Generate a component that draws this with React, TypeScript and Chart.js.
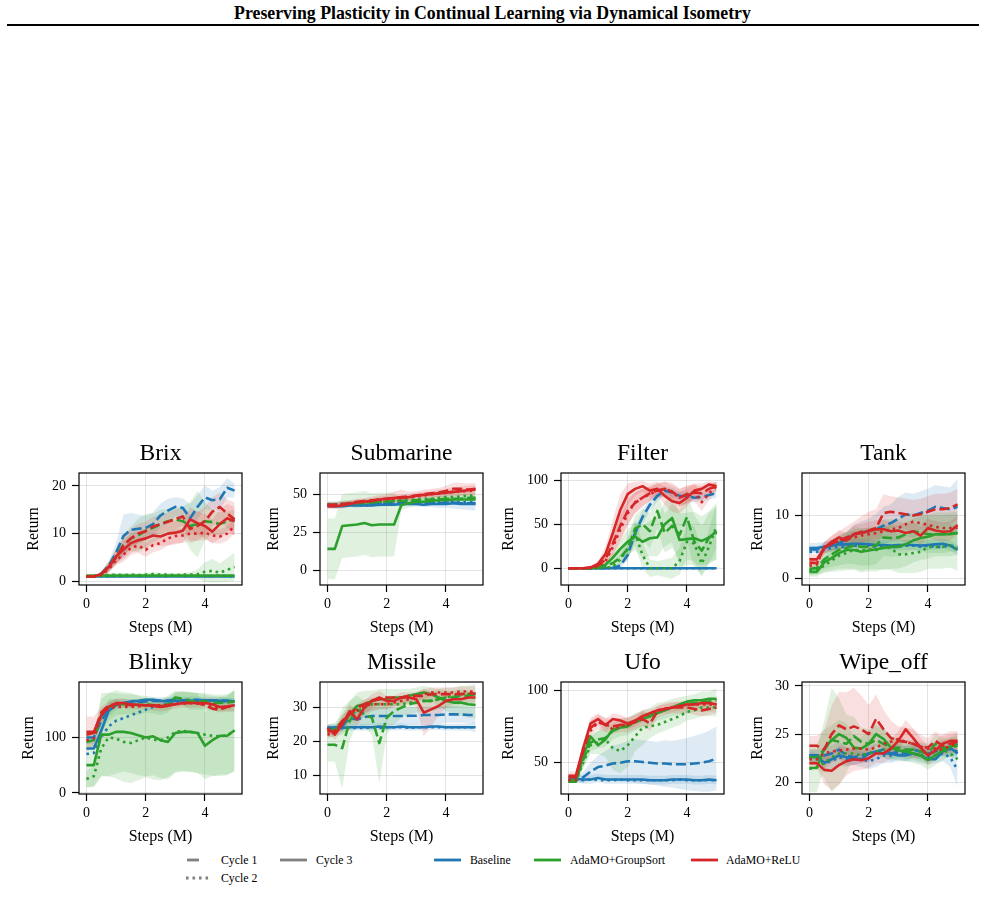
import React, { useEffect, useRef } from "react";
import { Chart, registerables } from "chart.js";
Chart.register(...registerables);

// ---------- shared ----------
const STEPS = [0, 0.25, 0.5, 0.75, 1, 1.25, 1.5, 1.75, 2, 2.25, 2.5, 2.75, 3, 3.25, 3.5, 3.75, 4, 4.25, 4.5, 4.75, 5];
const X_TICKS = [0, 2, 4];
const METHODS = ["Baseline", "AdaMO+GroupSort", "AdaMO+ReLU"];
const CYCLES = ["Cycle 1", "Cycle 2", "Cycle 3"];

// ---------- Brix ----------
const BRIX_YTICKS = [0, 10, 20];
const BRIX_B1 = [1.0, 1.0, 1.6, 3.2, 6.0, 9.5, 10.8, 11.0, 11.2, 12.0, 13.8, 14.8, 15.6, 15.4, 13.2, 15.6, 17.6, 17.0, 17.2, 19.6, 19.0];
const BRIX_B1_SD = [0.1, 0.1, 0.5, 1.0, 2.0, 4.5, 3.5, 3.0, 2.5, 2.5, 2.5, 2.5, 2.0, 2.0, 3.0, 2.5, 2.5, 2.0, 2.5, 2.0, 1.5];
const BRIX_B2 = [1.0, 1.0, 1.1, 1.1, 1.1, 1.1, 1.2, 1.1, 1.1, 1.2, 1.1, 1.1, 1.2, 1.1, 1.1, 1.2, 1.1, 1.1, 1.2, 1.1, 1.1];
const BRIX_B3 = [1.0, 1.0, 1.0, 1.0, 1.0, 1.0, 1.0, 1.0, 1.0, 1.0, 1.0, 1.0, 1.0, 1.0, 1.0, 1.0, 1.0, 1.0, 1.0, 1.0, 1.0];
const BRIX_G1 = [1.0, 1.0, 1.5, 3.0, 5.2, 7.6, 9.0, 9.6, 10.6, 11.2, 12.0, 12.6, 13.0, 12.6, 11.6, 12.0, 12.6, 12.4, 12.0, 12.6, 13.0];
const BRIX_G1_SD = [0.1, 0.1, 0.5, 1.0, 1.5, 2.0, 2.5, 3.5, 3.5, 3.0, 3.0, 2.5, 2.5, 3.0, 5.0, 7.0, 4.0, 2.5, 2.5, 2.0, 2.0];
const BRIX_G2 = [1.0, 1.0, 1.3, 1.3, 1.4, 1.3, 1.4, 1.3, 1.4, 1.5, 1.4, 1.4, 1.3, 1.4, 1.4, 1.5, 2.0, 2.2, 1.8, 2.4, 3.0];
const BRIX_G2_SD = [0.1, 0.1, 0.3, 0.4, 0.4, 0.4, 0.4, 0.4, 0.4, 0.4, 0.4, 0.4, 0.4, 0.4, 0.5, 1.0, 2.0, 2.5, 2.0, 2.5, 3.0];
const BRIX_G3 = [1.2, 1.2, 1.2, 1.2, 1.2, 1.2, 1.2, 1.2, 1.2, 1.2, 1.2, 1.2, 1.2, 1.2, 1.2, 1.2, 1.2, 1.2, 1.2, 1.2, 1.2];
const BRIX_R1 = [1.0, 1.0, 1.5, 3.0, 5.0, 7.5, 9.0, 10.0, 10.5, 11.5, 12.0, 12.5, 13.0, 13.6, 11.0, 11.6, 12.6, 14.6, 15.6, 14.2, 13.0];
const BRIX_R1_SD = [0.1, 0.1, 0.5, 1.0, 1.5, 2.0, 2.0, 2.0, 2.0, 2.0, 2.0, 2.0, 2.0, 2.0, 3.0, 3.0, 3.0, 3.0, 3.0, 3.0, 3.5];
const BRIX_R2 = [1.0, 1.0, 1.4, 2.5, 4.4, 5.6, 7.0, 7.5, 6.6, 7.6, 8.0, 9.0, 9.5, 9.6, 10.0, 10.0, 10.2, 9.6, 9.4, 10.0, 11.6];
const BRIX_R2_SD = [0.1, 0.1, 0.4, 0.8, 1.0, 1.5, 1.5, 1.5, 1.5, 1.5, 1.5, 1.5, 1.5, 1.5, 1.5, 1.5, 1.5, 1.5, 1.5, 1.5, 1.5];
const BRIX_R3 = [1.0, 1.0, 1.5, 3.0, 5.2, 6.6, 8.0, 8.6, 9.0, 9.6, 9.4, 10.0, 10.2, 10.6, 13.0, 12.2, 11.6, 10.4, 12.0, 13.2, 12.6];
const BRIX_R3_SD = [0.1, 0.1, 0.5, 1.0, 1.5, 2.0, 2.0, 2.0, 2.0, 2.0, 2.0, 2.5, 2.5, 2.5, 2.5, 2.5, 2.5, 2.5, 3.0, 3.0, 3.0];

// ---------- Submarine ----------
const SUB_YTICKS = [0, 25, 50];
const SUB_B1 = [43, 43, 43, 43.5, 43, 43.5, 44, 43.5, 44, 44, 44, 44.5, 44.5, 44, 44.5, 44, 44.5, 44.5, 44, 44, 44];
const SUB_B1_SD = [2, 2, 2, 2, 2, 2, 2, 2, 2, 2, 2, 2, 2.5, 2.5, 3, 3, 3.5, 4, 4, 4.5, 5];
const SUB_B2 = [42.5, 42, 42.5, 42.5, 43, 42.5, 43, 43.5, 43, 43.5, 43.5, 44, 44, 44, 44.5, 44.5, 45, 45, 44.5, 45, 45];
const SUB_B3 = [42, 42, 42, 42.5, 42.5, 42.5, 42.5, 43, 43, 43, 43.5, 43.5, 43.5, 43, 43.5, 43.5, 43.5, 44, 43.5, 43.5, 43.5];
const SUB_G1 = [43, 43, 43.5, 43.5, 44, 44, 44.5, 45, 45, 45.5, 45.5, 46, 46, 46, 46.5, 46.5, 47, 47, 47, 47.5, 47.5];
const SUB_G2 = [43, 43, 43.5, 44, 44, 44.5, 44.5, 45, 45.5, 45.5, 46, 46, 46.5, 47, 47, 47.5, 48, 48, 48.5, 49, 49];
const SUB_G2_SD = [2, 2, 2, 2, 2, 2, 2, 2, 2, 2, 2.5, 3, 3, 3, 3, 3, 3, 3, 3, 3, 3];
const SUB_G3 = [14, 14, 29, 29.5, 30, 31, 29.5, 30, 30, 30, 43, 44, 45, 45, 45.5, 46, 46, 46.5, 46.5, 46.5, 46.5];
const SUB_G3_SD = [20, 20, 21, 21, 21, 21, 21, 21, 21, 21, 3, 3, 3, 3, 3, 3, 3, 3, 3, 3, 3];
const SUB_R1 = [43, 43, 43.5, 44, 45, 45.5, 46, 46.5, 47, 47.5, 48, 48.5, 49, 50, 50.5, 51, 52, 53.5, 53.5, 53, 53.5];
const SUB_R1_SD = [2, 2, 2, 2, 2, 2, 2.5, 3, 3, 4, 5, 3, 3, 3, 3, 3, 3.5, 4, 4, 4, 4];
const SUB_R2 = [43, 43, 43.5, 44, 44.5, 45, 45.5, 46, 46.5, 47, 47.5, 48, 48.5, 49, 50, 50.5, 51, 51.5, 52, 52, 52.5];
const SUB_R3 = [42, 42, 42.5, 43.5, 44.5, 45, 45.5, 46.5, 47, 47.5, 47.5, 48, 49, 49.5, 50, 50.5, 51, 51.5, 52, 52.5, 53];
const SUB_R3_SD = [2, 2, 2, 2, 2, 2, 2, 2, 2, 2, 2, 2, 2, 2, 2, 2.5, 2.5, 3, 3, 3, 3];

// ---------- Filter ----------
const FIL_YTICKS = [0, 50, 100];
const FIL_B1 = [0, 0, 0, 0, 0, 0, 0.5, 3, 15, 40, 58, 72, 82, 88, 86, 82, 82, 80, 81, 83, 85];
const FIL_B1_SD = [0, 0, 0, 0, 0, 0, 1, 3, 6, 8, 8, 7, 6, 5, 5, 5, 5, 5, 5, 5, 5];
const FIL_B2 = [0, 0, 0, 0, 0, 0, 0, 0, 0, 0, 0, 0, 0, 0, 0, 0, 0, 0, 0, 0, 0];
const FIL_B3 = [0, 0, 0, 0, 0, 0, 0, 0, 0, 0, 0, 0, 0, 0, 0, 0, 0, 0, 0, 0, 0];
const FIL_G1 = [0, 0, 0, 0, 0.5, 2, 6, 12, 22, 45, 50, 42, 65, 40, 48, 38, 58, 30, 20, 35, 40];
const FIL_G1_SD = [0, 0, 0, 0, 0.5, 2, 4, 8, 12, 15, 18, 20, 20, 22, 25, 28, 28, 30, 28, 28, 30];
const FIL_G2 = [0, 0, 0, 0, 0, 0.5, 2, 10, 22, 40, 15, 0, 0, 0, 0, 8, 30, 28, 5, 25, 48];
const FIL_G2_SD = [0, 0, 0, 0, 0, 0.5, 2, 6, 10, 15, 15, 10, 8, 10, 12, 15, 20, 20, 15, 20, 25];
const FIL_G3 = [0, 0, 0, 0, 1, 4, 12, 22, 30, 36, 30, 34, 35, 50, 57, 32, 33, 34, 31, 35, 42];
const FIL_G3_SD = [0, 0, 0, 0, 1, 3, 6, 10, 14, 16, 18, 20, 22, 25, 28, 30, 30, 30, 28, 30, 32];
const FIL_R1 = [0, 0, 0, 0.5, 3, 10, 28, 48, 65, 74, 80, 85, 88, 90, 87, 80, 84, 86, 85, 90, 93];
const FIL_R1_SD = [0, 0, 0, 0.5, 2, 6, 12, 15, 15, 12, 10, 8, 8, 8, 10, 10, 10, 8, 8, 6, 5];
const FIL_R2 = [0, 0, 0, 0.5, 2, 8, 24, 44, 62, 75, 80, 84, 88, 90, 86, 80, 83, 86, 75, 85, 93];
const FIL_R2_SD = [0, 0, 0, 0.5, 2, 5, 10, 14, 14, 12, 10, 8, 8, 8, 8, 10, 10, 10, 10, 8, 6];
const FIL_R3 = [0, 0, 0, 1, 5, 16, 40, 66, 84, 90, 93, 88, 90, 82, 76, 74, 80, 88, 90, 95, 93];
const FIL_R3_SD = [0, 0, 0, 1, 3, 8, 15, 18, 12, 8, 6, 8, 8, 10, 12, 12, 10, 8, 6, 4, 4];

// ---------- Tank ----------
const TANK_YTICKS = [0, 10];
const TANK_B1 = [4.6, 4.6, 4.8, 5.2, 5.6, 6.2, 7.0, 7.3, 7.5, 7.8, 8.4, 8.8, 9.5, 10.2, 10.0, 10.4, 10.8, 11.4, 11.2, 11.0, 11.4];
const TANK_B1_SD = [0.5, 0.5, 0.8, 1.0, 1.0, 1.2, 1.5, 1.8, 2.0, 2.5, 3.0, 3.0, 3.5, 3.5, 3.5, 3.5, 3.5, 3.5, 3.5, 3.5, 4.5];
const TANK_B2 = [4.2, 4.2, 4.5, 4.8, 5.0, 5.0, 5.2, 5.0, 5.2, 5.0, 5.2, 5.0, 5.0, 5.2, 5.2, 5.0, 5.2, 5.0, 5.0, 5.2, 5.0];
const TANK_B3 = [4.8, 4.8, 5.0, 5.2, 5.4, 5.4, 5.5, 5.5, 5.4, 5.3, 5.3, 5.2, 5.3, 5.3, 5.3, 5.2, 5.3, 5.4, 5.5, 5.2, 4.5];
const TANK_B3_SD = [0.8, 0.8, 0.8, 0.8, 0.8, 0.8, 0.8, 0.8, 0.8, 0.8, 0.8, 0.8, 0.8, 0.8, 0.8, 0.8, 0.8, 0.8, 0.8, 0.8, 0.8];
const TANK_G1 = [1.5, 1.6, 3.0, 3.8, 4.5, 4.8, 5.2, 5.0, 5.0, 5.2, 6.5, 6.4, 6.5, 7.0, 7.5, 7.3, 7.0, 7.0, 7.0, 7.2, 7.2];
const TANK_G1_SD = [0.8, 0.8, 1.5, 2.0, 2.5, 2.5, 3.0, 3.0, 3.0, 3.0, 3.0, 3.0, 3.0, 3.0, 3.0, 3.0, 3.0, 3.0, 3.0, 3.0, 3.0];
const TANK_G2 = [1.2, 1.3, 2.0, 2.8, 3.6, 4.0, 4.5, 4.4, 4.6, 4.5, 5.0, 4.8, 3.8, 3.8, 4.0, 4.2, 5.0, 5.0, 5.0, 5.2, 4.6];
const TANK_G2_SD = [0.8, 0.8, 1.2, 1.8, 2.5, 2.8, 3.2, 3.5, 3.5, 3.5, 3.5, 3.5, 3.0, 3.0, 3.2, 3.2, 3.5, 3.5, 3.5, 3.5, 3.5];
const TANK_G3 = [1.0, 1.0, 2.5, 3.2, 4.0, 4.5, 4.5, 4.2, 4.4, 4.6, 4.8, 5.0, 5.0, 5.4, 6.0, 6.4, 6.6, 7.0, 7.0, 7.0, 7.2];
const TANK_G3_SD = [0.8, 0.8, 1.5, 2.0, 2.5, 3.0, 3.0, 3.0, 3.0, 3.2, 3.5, 3.5, 3.5, 3.5, 3.5, 3.5, 3.5, 3.5, 3.5, 3.5, 3.5];
const TANK_R1 = [2.5, 2.4, 4.8, 5.5, 6.0, 6.5, 7.0, 7.4, 7.6, 8.0, 10.4, 10.6, 10.4, 10.2, 10.0, 10.2, 10.6, 11.0, 11.0, 11.2, 11.8];
const TANK_R1_SD = [0.8, 0.8, 1.0, 1.2, 1.5, 1.8, 2.0, 2.5, 3.0, 3.0, 3.0, 2.5, 2.5, 2.5, 2.5, 2.5, 2.5, 2.5, 2.5, 2.5, 2.5];
const TANK_R2 = [2.0, 2.2, 5.0, 5.5, 6.0, 6.2, 6.5, 6.8, 7.0, 7.2, 7.5, 7.8, 8.0, 8.6, 9.0, 8.8, 8.5, 8.2, 8.0, 8.0, 8.0];
const TANK_R3 = [3.0, 3.0, 4.8, 5.8, 6.5, 6.0, 7.0, 7.2, 7.5, 7.8, 7.8, 7.5, 7.6, 7.2, 7.5, 6.8, 8.0, 7.6, 7.4, 7.5, 8.5];
const TANK_R3_SD = [0.8, 0.8, 1.0, 1.0, 1.2, 1.2, 1.5, 1.5, 1.5, 1.5, 1.5, 1.5, 1.5, 1.5, 1.5, 1.5, 1.5, 1.5, 1.5, 1.5, 1.5];

// ---------- Blinky ----------
const BLINKY_YTICKS = [0, 100];
const BLINKY_B1 = [100, 100, 130, 150, 160, 162, 163, 164, 165, 166, 166, 167, 168, 167, 168, 168, 167, 167, 166, 166, 165];
const BLINKY_B1_SD = [12, 12, 15, 12, 10, 8, 6, 6, 6, 6, 6, 6, 6, 6, 6, 6, 6, 6, 6, 6, 6];
const BLINKY_B2 = [70, 72, 100, 120, 130, 135, 140, 145, 150, 155, 158, 160, 162, 163, 164, 165, 165, 166, 166, 165, 165];
const BLINKY_B3 = [80, 80, 112, 148, 158, 162, 165, 166, 168, 168, 166, 165, 166, 167, 166, 167, 167, 167, 166, 166, 165];
const BLINKY_G1 = [92, 95, 140, 155, 160, 160, 160, 158, 160, 158, 155, 160, 172, 170, 165, 165, 165, 163, 162, 163, 165];
const BLINKY_G1_SD = [15, 15, 30, 25, 20, 18, 18, 18, 15, 15, 15, 15, 12, 12, 15, 15, 15, 15, 15, 15, 20];
const BLINKY_G2 = [25, 30, 80, 100, 98, 92, 90, 95, 100, 96, 95, 100, 110, 112, 110, 108, 105, 103, 102, 104, 112];
const BLINKY_G2_SD = [15, 18, 50, 70, 72, 72, 72, 72, 72, 72, 72, 72, 72, 72, 72, 72, 72, 72, 72, 72, 72];
const BLINKY_G3 = [50, 50, 105, 105, 110, 110, 108, 104, 100, 102, 95, 92, 108, 110, 110, 108, 85, 95, 103, 103, 113];
const BLINKY_G3_SD = [40, 40, 75, 75, 75, 72, 72, 72, 70, 70, 68, 68, 72, 72, 72, 72, 60, 65, 70, 70, 75];
const BLINKY_R1 = [105, 108, 145, 158, 160, 160, 158, 158, 158, 158, 157, 158, 160, 162, 162, 162, 158, 152, 150, 155, 158];
const BLINKY_R2 = [95, 98, 140, 152, 155, 155, 155, 156, 158, 158, 158, 159, 160, 161, 162, 161, 160, 155, 152, 155, 158];
const BLINKY_R3 = [110, 110, 140, 155, 162, 162, 160, 159, 158, 157, 155, 157, 160, 162, 162, 162, 162, 160, 155, 156, 158];
const BLINKY_R3_SD = [28, 28, 15, 10, 8, 8, 8, 8, 8, 8, 8, 8, 8, 8, 8, 8, 8, 10, 10, 10, 10];

// ---------- Missile ----------
const MIS_YTICKS = [10, 20, 30];
const MIS_B1 = [24, 24, 24.5, 27, 26.5, 27.2, 27.5, 27.5, 27.5, 27.5, 27.5, 27.6, 27.6, 27.8, 27.8, 27.8, 28, 28, 28, 27.8, 27.8];
const MIS_B1_SD = [1, 1, 1.5, 2, 2.5, 2.5, 2.5, 2.5, 2.5, 2.5, 2.5, 2.5, 2.5, 2.5, 2.5, 2.5, 2.5, 2.5, 2.5, 2.5, 2.5];
const MIS_B2 = [24, 24, 24, 24, 24, 24, 24.2, 24, 24.2, 24.2, 24.2, 24, 24.2, 24.2, 24.2, 24.2, 24.2, 24.2, 24.2, 24.2, 24.2];
const MIS_B3 = [24, 24, 24, 24.2, 24.2, 24.2, 24.2, 24.4, 24.2, 24.2, 24.4, 24.2, 24.2, 24.2, 24.4, 24.4, 24.2, 24.2, 24.2, 24.2, 24.2];
const MIS_B3_SD = [1, 1, 1, 1, 1, 1, 1, 1, 1, 1, 1, 1, 1, 1, 1, 1, 1, 1, 1, 1, 1.5];
const MIS_G1 = [19, 19, 18, 26, 29.5, 28, 27, 19.5, 27, 29, 30, 31, 31.5, 32, 32, 32.5, 33, 33, 33.5, 33.5, 34];
const MIS_G1_SD = [5, 5, 12, 6, 4, 4, 5, 12, 5, 4, 3, 3, 3, 3, 3, 3, 3, 3, 3, 3, 3];
const MIS_G2 = [23, 23.5, 26, 28, 29, 30, 31, 31, 31, 31, 31, 31.5, 31.5, 32, 32, 32.5, 33, 33.5, 34, 34, 34];
const MIS_G3 = [23, 23.5, 25, 28, 30.5, 31, 32, 32.5, 32.5, 33, 33, 33.5, 34, 34.5, 34, 33, 32, 31.5, 31.5, 31, 30.8];
const MIS_G3_SD = [2, 2, 3, 4, 4, 4, 3, 3, 3, 2.5, 2.5, 2, 2, 2, 2, 2.5, 3, 3.5, 4, 4, 4];
const MIS_R1 = [23, 23, 26, 28, 30, 31, 32, 32.5, 33, 33, 33, 33.5, 33.5, 33.5, 34, 34, 34, 34, 34, 34.2, 34.2];
const MIS_R2 = [22, 22.5, 26, 27.5, 29, 30.5, 31, 31, 31, 31.5, 32, 32.5, 33, 34, 34.5, 34.5, 34.5, 34.5, 34.8, 34.8, 34.8];
const MIS_R2_SD = [1, 1, 2, 2, 2, 2, 2, 1.5, 1.5, 1.5, 1.5, 1.5, 1.5, 1.5, 1.5, 1.5, 1.5, 1.5, 1.5, 1.5, 1.5];
const MIS_R3 = [24, 22, 25, 29, 26.5, 30, 32, 33, 32, 32, 33, 33, 32.5, 28.5, 29.5, 30.5, 32, 32.5, 32.5, 33, 33];
const MIS_R3_SD = [1, 1.5, 2, 2, 2, 2, 2, 2, 1.5, 1.5, 1.5, 1.5, 2, 7, 5, 3, 2, 1.5, 1.5, 1.5, 1.5];

// ---------- Ufo ----------
const UFO_YTICKS = [50, 100];
const UFO_B1 = [38, 38, 40, 44, 47, 48, 49.5, 50, 51, 51, 50.5, 50, 49.5, 49.5, 49, 49, 49, 49.5, 50, 51, 53];
const UFO_B1_SD = [2, 2, 4, 6, 8, 10, 12, 13, 14, 15, 15, 15, 15, 16, 16, 17, 18, 19, 20, 21, 22];
const UFO_B2 = [38, 38, 38, 38.5, 38, 38, 38, 38.5, 38, 38, 38, 38, 38, 38, 38, 38.5, 38, 38, 38, 38, 38];
const UFO_B3 = [39, 39, 38.5, 38.5, 39.5, 38.5, 38.5, 38.5, 38.5, 38.5, 38.5, 38, 38, 38, 38.5, 38.5, 38.5, 38, 38, 38.5, 38];
const UFO_B3_SD = [2, 2, 3, 3, 3, 3, 3, 3, 3, 3, 3, 3, 3, 3, 3, 3, 3, 3, 3, 3, 3];
const UFO_G1 = [38, 38, 52, 64, 66, 67, 72, 74, 75, 78, 80, 82, 85, 86, 88, 89, 90, 91, 92, 92, 93];
const UFO_G1_SD = [2, 2, 5, 6, 6, 6, 6, 6, 6, 6, 6, 6, 6, 6, 6, 6, 6, 6, 7, 7, 8];
const UFO_G2 = [37, 37, 50, 62, 64, 66, 60, 58, 62, 68, 74, 75, 76, 78, 80, 82, 85, 86, 88, 88, 88];
const UFO_G2_SD = [1, 1, 4, 6, 8, 12, 15, 15, 15, 10, 12, 8, 6, 6, 6, 6, 6, 6, 6, 6, 6];
const UFO_G3 = [37, 37, 55, 68, 62, 66, 73, 74, 76, 78, 80, 82, 84, 86, 88, 90, 92, 93, 93, 94, 94];
const UFO_R1 = [40, 40, 58, 74, 78, 76, 75, 76, 76, 78, 80, 77, 85, 87, 88, 88, 88, 87, 86, 87, 88];
const UFO_R1_SD = [2, 2, 4, 5, 5, 5, 5, 5, 5, 5, 5, 5, 4, 4, 4, 4, 4, 4, 4, 4, 4];
const UFO_R2 = [38, 38, 60, 72, 78, 76, 73, 75, 77, 78, 81, 84, 86, 87, 88, 89, 90, 90, 90, 90, 90];
const UFO_R3 = [41, 41, 60, 77, 80, 76, 80, 79, 77, 79, 82, 84, 86, 87, 88, 89, 90, 90, 91, 91, 90];
const UFO_R3_SD = [3, 3, 4, 4, 4, 4, 4, 4, 4, 4, 4, 3, 3, 3, 3, 3, 3, 3, 3, 3, 3];

// ---------- Wipe_off ----------
const WIPE_YTICKS = [20, 25, 30];
const WIPE_B1 = [22.8, 22.8, 22.8, 23, 23.4, 22.8, 22.6, 22.8, 23, 23.2, 23.4, 23, 23.2, 23, 23.4, 23.2, 23, 23.2, 23.6, 23.4, 23.2];
const WIPE_B1_SD = [0.6, 0.6, 0.8, 0.8, 0.8, 0.8, 0.8, 0.8, 0.8, 0.8, 0.8, 0.8, 0.8, 0.8, 0.8, 0.8, 0.8, 0.8, 0.8, 0.8, 0.8];
const WIPE_B2 = [22.6, 22.4, 22, 22.2, 22.6, 22.4, 22.6, 22.4, 22.2, 22.4, 22.8, 22.8, 23, 23, 23, 22.8, 22.6, 22.8, 23, 22.6, 21.3];
const WIPE_B2_SD = [0.6, 0.6, 0.8, 0.8, 0.8, 0.8, 0.8, 0.8, 0.8, 0.8, 0.8, 0.8, 0.8, 0.8, 0.8, 0.8, 0.8, 0.8, 0.8, 1.0, 1.8];
const WIPE_B3 = [22.8, 22.8, 22, 22.4, 22.8, 22.6, 22.4, 22.4, 23, 23.2, 23, 23, 22.8, 22.8, 23, 22.8, 22.4, 22.4, 23.2, 23.6, 23];
const WIPE_G1 = [22.6, 22.6, 23.4, 24.4, 24.2, 24, 24.8, 24.2, 24, 24.4, 24, 23.6, 23.6, 23.4, 23.4, 23.2, 23, 24, 23.6, 23.6, 23.8];
const WIPE_G1_SD = [0.8, 0.8, 3, 5.4, 4.5, 3, 2, 1.5, 1.5, 1.5, 1.5, 1.2, 1, 1, 1, 1, 1, 1, 1, 1, 1];
const WIPE_G2 = [21.4, 21.6, 22, 22.6, 23, 23, 23, 22.8, 23, 23.2, 23.4, 23.4, 23.4, 23.2, 23, 22.8, 22.8, 23.2, 23.4, 23, 22.4];
const WIPE_G3 = [21.5, 21.5, 23.5, 24.4, 25, 24.6, 23.6, 23.5, 24, 25, 24.5, 23.6, 23.3, 23.2, 23, 22.8, 22.3, 22.8, 23.3, 23.7, 24];
const WIPE_G3_SD = [2.5, 2.5, 2, 1.5, 1.5, 1.5, 1.2, 1.2, 1.2, 1.2, 1.2, 1.2, 1, 1, 1, 1, 1, 1, 1, 1, 1];
const WIPE_R1 = [23.8, 23.8, 23.4, 25, 25.9, 25.5, 25.8, 25.5, 25, 26.6, 25.5, 24.6, 24.3, 24.2, 24, 23.7, 23.6, 24.3, 23.8, 24, 24.2];
const WIPE_R1_SD = [1, 1, 2, 3, 3.5, 3.8, 4, 3.5, 3, 2.5, 2, 1.8, 1.5, 1.5, 1.5, 1.2, 1, 1, 1, 1, 1];
const WIPE_R2 = [22.4, 22.4, 23, 23.2, 23.3, 23.4, 23.5, 23.5, 23.4, 23.6, 24, 24.2, 24.5, 24.2, 24, 23.7, 23.5, 23.5, 23.4, 23.8, 24];
const WIPE_R3 = [22, 22, 21.3, 21.2, 21.8, 22.2, 22.4, 22.3, 22.5, 23, 23, 23.5, 24.3, 25.5, 24.6, 23.6, 22.8, 23.3, 24, 24.3, 24.3];
const WIPE_R3_SD = [0.5, 0.5, 1.5, 2, 2, 1.5, 1.2, 1, 1, 1, 1, 1, 1, 1, 1, 1, 1, 1, 1, 1, 1];

// ---------- assembly ----------
type Line = { method: number; cycle: number; values: number[]; sd?: number[] };
type Game = { title: string; yMin: number; yMax: number; yTicks: number[]; lines: Line[] };

const mk = (v: number[][], sd: (number[] | undefined)[]): Line[] =>
  v.map((values, k) => ({ method: Math.floor(k / 3), cycle: k % 3, values, sd: sd[k] }));

const GAMES: Game[] = [
  { title: "Brix", yMin: -0.77, yMax: 22.7, yTicks: BRIX_YTICKS,
    lines: mk([BRIX_B1, BRIX_B2, BRIX_B3, BRIX_G1, BRIX_G2, BRIX_G3, BRIX_R1, BRIX_R2, BRIX_R3],
      [BRIX_B1_SD, undefined, undefined, BRIX_G1_SD, BRIX_G2_SD, undefined, BRIX_R1_SD, BRIX_R2_SD, BRIX_R3_SD]) },
  { title: "Submarine", yMin: -9.8, yMax: 63.9, yTicks: SUB_YTICKS,
    lines: mk([SUB_B1, SUB_B2, SUB_B3, SUB_G1, SUB_G2, SUB_G3, SUB_R1, SUB_R2, SUB_R3],
      [SUB_B1_SD, undefined, undefined, undefined, SUB_G2_SD, SUB_G3_SD, SUB_R1_SD, undefined, SUB_R3_SD]) },
  { title: "Filter", yMin: -19, yMax: 108, yTicks: FIL_YTICKS,
    lines: mk([FIL_B1, FIL_B2, FIL_B3, FIL_G1, FIL_G2, FIL_G3, FIL_R1, FIL_R2, FIL_R3],
      [FIL_B1_SD, undefined, undefined, FIL_G1_SD, FIL_G2_SD, FIL_G3_SD, FIL_R1_SD, FIL_R2_SD, FIL_R3_SD]) },
  { title: "Tank", yMin: -1.1, yMax: 16.8, yTicks: TANK_YTICKS,
    lines: mk([TANK_B1, TANK_B2, TANK_B3, TANK_G1, TANK_G2, TANK_G3, TANK_R1, TANK_R2, TANK_R3],
      [TANK_B1_SD, undefined, TANK_B3_SD, TANK_G1_SD, TANK_G2_SD, TANK_G3_SD, TANK_R1_SD, undefined, TANK_R3_SD]) },
  { title: "Blinky", yMin: -2, yMax: 200, yTicks: BLINKY_YTICKS,
    lines: mk([BLINKY_B1, BLINKY_B2, BLINKY_B3, BLINKY_G1, BLINKY_G2, BLINKY_G3, BLINKY_R1, BLINKY_R2, BLINKY_R3],
      [BLINKY_B1_SD, undefined, undefined, BLINKY_G1_SD, BLINKY_G2_SD, BLINKY_G3_SD, undefined, undefined, BLINKY_R3_SD]) },
  { title: "Missile", yMin: 4.4, yMax: 37.6, yTicks: MIS_YTICKS,
    lines: mk([MIS_B1, MIS_B2, MIS_B3, MIS_G1, MIS_G2, MIS_G3, MIS_R1, MIS_R2, MIS_R3],
      [MIS_B1_SD, undefined, MIS_B3_SD, MIS_G1_SD, undefined, MIS_G3_SD, undefined, MIS_R2_SD, MIS_R3_SD]) },
  { title: "Ufo", yMin: 28.5, yMax: 105.5, yTicks: UFO_YTICKS,
    lines: mk([UFO_B1, UFO_B2, UFO_B3, UFO_G1, UFO_G2, UFO_G3, UFO_R1, UFO_R2, UFO_R3],
      [UFO_B1_SD, undefined, UFO_B3_SD, UFO_G1_SD, UFO_G2_SD, undefined, UFO_R1_SD, undefined, UFO_R3_SD]) },
  { title: "Wipe_off", yMin: 18.8, yMax: 30.4, yTicks: WIPE_YTICKS,
    lines: mk([WIPE_B1, WIPE_B2, WIPE_B3, WIPE_G1, WIPE_G2, WIPE_G3, WIPE_R1, WIPE_R2, WIPE_R3],
      [WIPE_B1_SD, WIPE_B2_SD, undefined, WIPE_G1_SD, undefined, WIPE_G3_SD, WIPE_R1_SD, undefined, WIPE_R3_SD]) },
];

// ---------- styling / layout ----------
const FONT = "'Liberation Serif', 'Times New Roman', Times, serif";
const RGB = [[31, 119, 180], [44, 160, 44], [214, 39, 40]];
const DASHES = [[10, 4], [2.6, 3.9], []];
const COL_LEFT = [79, 320, 561, 802];
const ROW_TOP = [473, 682];
const AX_W = 163;
const AX_H = 112;
const Y_AXIS_W = 64;
const TOP_H = 44;
const X_AXIS_H = 52;
const RIGHT_PAD = 6;
const YLABEL_GAP = [45, 46, 52, 44, 50, 46, 52, 44];

const framePlugin = {
  id: "frame",
  afterDatasetsDraw(chart: any) {
    const { ctx, chartArea: a } = chart;
    ctx.save();
    ctx.strokeStyle = "#000";
    ctx.lineWidth = 1.2;
    ctx.strokeRect(a.left, a.top, a.right - a.left, a.bottom - a.top);
    ctx.restore();
  },
};

function rgba(c: number[], a: number) {
  return `rgba(${c[0]},${c[1]},${c[2]},${a})`;
}

function Panel({ game, idx }: { game: Game; idx: number }) {
  const ref = useRef<HTMLCanvasElement | null>(null);
  const col = idx % 4;
  const row = Math.floor(idx / 4);
  const W = Y_AXIS_W + AX_W + RIGHT_PAD;
  const H = TOP_H + AX_H + X_AXIS_H;
  useEffect(() => {
    if (!ref.current) return;
    const datasets: any[] = [];
    game.lines.forEach((ln, k) => {
      if (!ln.sd) return;
      const lowIdx = datasets.length;
      datasets.push({
        data: STEPS.map((x, i) => ({ x, y: ln.values[i] - (ln.sd as number[])[i] })),
        borderWidth: 0, pointRadius: 0, fill: false, order: 200 - k, tension: 0,
      });
      datasets.push({
        data: STEPS.map((x, i) => ({ x, y: ln.values[i] + (ln.sd as number[])[i] })),
        borderWidth: 0, pointRadius: 0, fill: lowIdx, tension: 0,
        backgroundColor: rgba(RGB[ln.method], 0.15), order: 200 - k,
      });
    });
    game.lines.forEach((ln, k) => {
      datasets.push({
        label: METHODS[ln.method] + " " + CYCLES[ln.cycle],
        data: STEPS.map((x, i) => ({ x, y: ln.values[i] })),
        borderColor: rgba(RGB[ln.method], 1),
        borderWidth: 2.6,
        borderDash: DASHES[ln.cycle],
        borderCapStyle: "butt",
        borderJoinStyle: "round",
        pointRadius: 0, fill: false, tension: 0, order: 100 - k,
      });
    });
    const gridCommon = { color: "rgba(0,0,0,0.11)", lineWidth: 1, tickColor: "#000", tickWidth: 1.2, tickLength: 7 };
    const chart = new Chart(ref.current, {
      type: "line",
      data: { datasets },
      plugins: [framePlugin],
      options: {
        animation: false,
        responsive: false,
        maintainAspectRatio: false,
        events: [],
        layout: { padding: { left: 0, right: RIGHT_PAD, top: 0, bottom: 0 } },
        plugins: {
          legend: { display: false },
          tooltip: { enabled: false },
          title: {
            display: true, text: game.title, color: "#000", fullSize: false,
            font: { family: FONT, size: 23.5, weight: "normal", lineHeight: 1.2 },
            padding: { top: 10.4, bottom: TOP_H - 10.4 - 28.2 },
          },
        },
        scales: {
          x: {
            type: "linear", min: -0.25, max: 5.25,
            afterBuildTicks: (s: any) => { s.ticks = X_TICKS.map((v) => ({ value: v })); },
            afterFit: (s: any) => { s.height = X_AXIS_H; },
            grid: gridCommon,
            border: { display: false },
            ticks: { color: "#000", font: { family: FONT, size: 14 }, padding: 4, maxRotation: 0, autoSkip: false, callback: (v: any) => String(v) },
            title: { display: true, text: "Steps (M)", color: "#000", font: { family: FONT, size: 16, lineHeight: 1.2 }, padding: { top: 0, bottom: 0 } },
          },
          y: {
            type: "linear", min: game.yMin, max: game.yMax,
            afterBuildTicks: (s: any) => { s.ticks = game.yTicks.map((v) => ({ value: v })); },
            afterFit: (s: any) => { s.width = Y_AXIS_W; },
            grid: gridCommon,
            border: { display: false },
            ticks: { color: "#000", font: { family: FONT, size: 14 }, padding: 6, autoSkip: false, callback: (v: any) => String(v) },
            title: { display: true, text: "Return", color: "#000", font: { family: FONT, size: 16, lineHeight: 1.2 }, padding: { top: Y_AXIS_W - YLABEL_GAP[idx] - 9.6, bottom: 0 } },
          },
        },
      } as any,
    });
    return () => chart.destroy();
  }, [game, idx]);
  return (
    <canvas
      ref={ref}
      width={W}
      height={H}
      style={{ position: "absolute", left: COL_LEFT[col] - Y_AXIS_W, top: ROW_TOP[row] - TOP_H, width: W, height: H }}
    />
  );
}

function Handle({ x, y, w, color, dash }: { x: number; y: number; w: number; color: string; dash: number[] }) {
  return (
    <svg width={w} height={6} style={{ position: "absolute", left: x, top: y - 3 }}>
      <line x1={0} y1={3} x2={w} y2={3} stroke={color} strokeWidth={2.8} strokeDasharray={dash.length ? dash.join(" ") : undefined} />
    </svg>
  );
}

function LegendText({ x, y, text }: { x: number; y: number; text: string }) {
  return (
    <div style={{ position: "absolute", left: x, top: y - 8, height: 16, lineHeight: "16px", fontFamily: FONT, fontSize: 11.8, color: "#000", whiteSpace: "nowrap" }}>
      {text}
    </div>
  );
}

export default function App() {
  return (
    <div style={{ position: "absolute", left: 0, top: 0, width: 985, height: 919, background: "#fff" }}>
      <div style={{ position: "absolute", left: 0, top: 3, width: 985, textAlign: "center", fontFamily: FONT, fontWeight: "bold", fontSize: 17.8, lineHeight: "21px", color: "#000" }}>
        Preserving Plasticity in Continual Learning via Dynamical Isometry
      </div>
      <div style={{ position: "absolute", left: 7, top: 24, width: 972, height: 2, background: "#000" }} />
      {GAMES.map((g, i) => (
        <Panel key={g.title} game={g} idx={i} />
      ))}
      <Handle x={187} y={860} w={12} color="#808080" dash={[]} />
      <LegendText x={221} y={860} text={CYCLES[0]} />
      <Handle x={186} y={878} w={23} color="#808080" dash={DASHES[1]} />
      <LegendText x={221} y={878} text={CYCLES[1]} />
      <Handle x={280} y={860} w={27} color="#808080" dash={DASHES[2]} />
      <LegendText x={316} y={860} text={CYCLES[2]} />
      <Handle x={434} y={860} w={27} color={rgba(RGB[0], 1)} dash={[]} />
      <LegendText x={470} y={860} text={METHODS[0]} />
      <Handle x={534} y={860} w={27} color={rgba(RGB[1], 1)} dash={[]} />
      <LegendText x={570} y={860} text={METHODS[1]} />
      <Handle x={691} y={860} w={27} color={rgba(RGB[2], 1)} dash={[]} />
      <LegendText x={726} y={860} text={METHODS[2]} />
    </div>
  );
}
